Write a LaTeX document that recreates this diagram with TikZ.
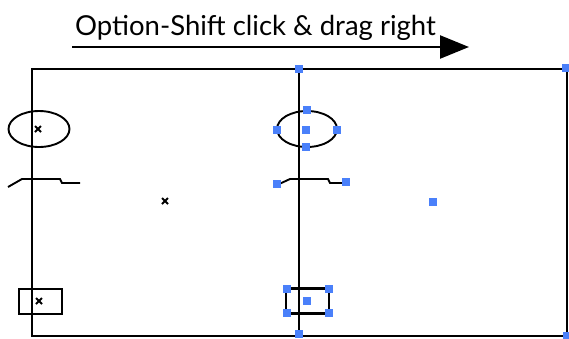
\documentclass[tikz,border=0pt]{standalone}
\usepackage{fontspec}
\setmainfont{Lato}
\usetikzlibrary{arrows.meta,shapes.geometric}
\definecolor{handle}{RGB}{74,128,250}
\tikzset{
  frame/.style={line width=2.3pt, black},
  sketch/.style={line width=1.9pt, black},
  hsq/.style={fill=handle, draw=none, minimum size=8.5pt, inner sep=0pt, outer sep=0pt},
  xmark/.style={inner sep=0pt, minimum size=6pt, outer sep=0pt},
}
\begin{document}
\begin{tikzpicture}[x=1pt,y=-1pt]
\useasboundingbox (0,0) rectangle (569,338);
% title
\node[anchor=base west, inner sep=0pt, font=\fontsize{27.5}{32}\selectfont] (title) at (75,35) {Option-Shift click \& drag right};
\coordinate (arS) at (72,47);
\coordinate (arE) at (469,47);
\draw[line width=2.4pt, -{Triangle[length=29pt,width=23pt]}] (arS) -- (arE);
% frame
\coordinate (tl) at (32,69);
\coordinate (tm) at (299,69);
\coordinate (tr) at (567,69);
\coordinate (bl) at (32,336);
\coordinate (bm) at (299,336);
\coordinate (br) at (567,336);
\draw[frame] (tl) -- (tr) -- (br) -- (bl) -- cycle;
\draw[frame] (tm) -- (bm);
% left figure
\node[draw, sketch, ellipse, minimum width=61pt, minimum height=36pt, inner sep=0pt] (headL) at (39,129) {};
\draw[sketch] (8,187) -- (22,179) -- (60,179) -- (62,183) -- (80,183);
\node[draw, frame, minimum width=43pt, minimum height=25pt, inner sep=0pt] (boxL) at (40.5,301.5) {};
\foreach \p/\n in {{(38,129)}/xa, {(165,201)}/xb, {(39,301)}/xc}{
  \node[xmark] (\n) at \p {};
  \draw[line width=1.8pt] (\n.north west) -- (\n.south east) (\n.north east) -- (\n.south west);
}
% right figure
\node[draw, sketch, ellipse, minimum width=60pt, minimum height=36pt, inner sep=0pt] (headR) at (307,129) {};
\draw[sketch] (277,185) -- (290,179) -- (328,179) -- (330,183) -- (346,183);
\node[draw, frame, minimum width=43pt, minimum height=25pt, inner sep=0pt] (boxR) at (307.5,301) {};
% handles
\node[hsq] (h1) at (299,69) {};
\node[hsq] (h2) at (566,68) {};
\node[hsq] (h3) at (567,336) {};
\node[hsq] (h4) at (299,334) {};
\node[hsq] (h5) at (307,110) {};
\node[hsq] (h6) at (277,130) {};
\node[hsq] (h7) at (337,130) {};
\node[hsq] (h8) at (306,147) {};
\node[hsq] (h9) at (306,130) {};
\node[hsq] (h10) at (277,184) {};
\node[hsq] (h11) at (346,182) {};
\node[hsq] (h12) at (433,202) {};
\node[hsq] (h13) at (287,289) {};
\node[hsq] (h14) at (329,289) {};
\node[hsq] (h15) at (287,313) {};
\node[hsq] (h16) at (329,313) {};
\node[hsq] (h17) at (307,301) {};
\end{tikzpicture}
\end{document}
